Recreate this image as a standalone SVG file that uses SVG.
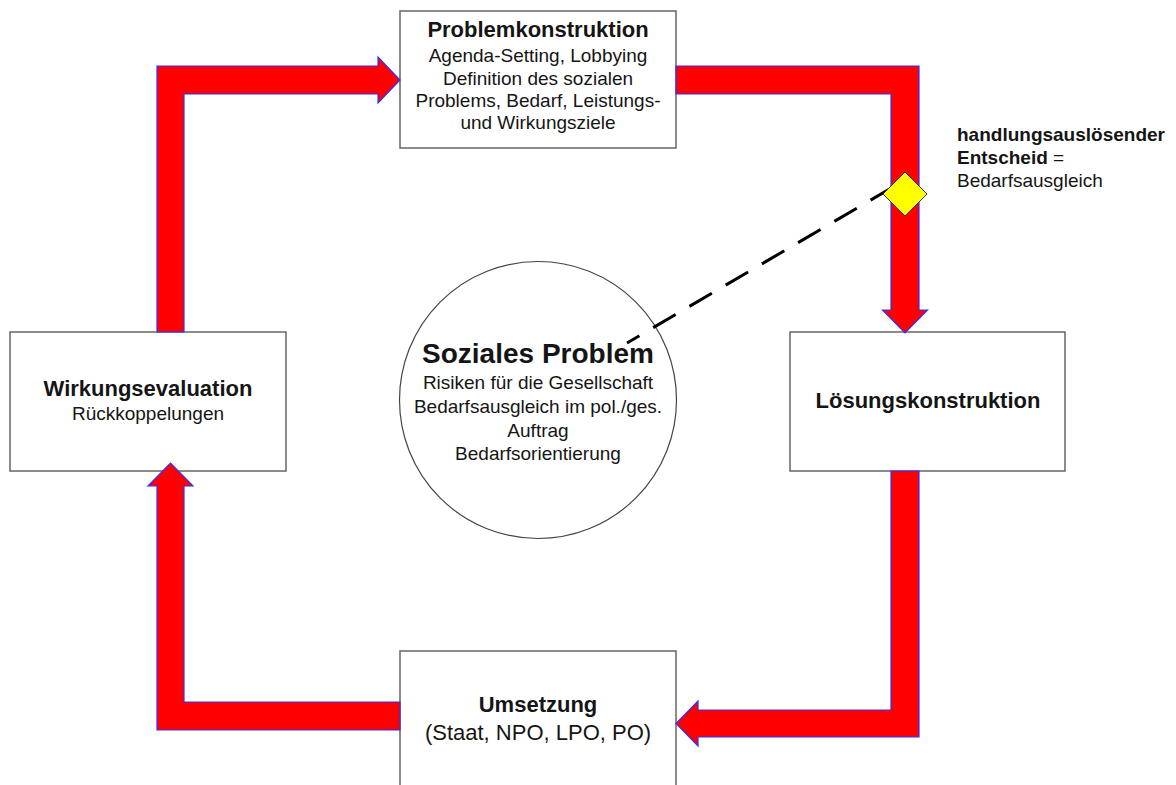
<svg xmlns="http://www.w3.org/2000/svg" width="1176" height="785" viewBox="0 0 1176 785">
<style>
.box{fill:#fff;stroke:#666;stroke-width:1.5}
.arrow{fill:#ff0000;stroke:#3030ff;stroke-width:1.2;stroke-linejoin:miter}
text{font-family:"Liberation Sans",Arial,sans-serif;fill:#151515}
.t{font-size:22px;font-weight:bold;text-anchor:middle}
.b{font-size:19px;text-anchor:middle}
.b22{font-size:22px;text-anchor:middle}
.side{font-size:19px}
</style>
<rect width="1176" height="785" fill="#fff"/>
<g id="node-problemkonstruktion">
<rect class="box" x="400" y="11" width="276" height="137"/>
<text class="t" x="538" y="37">Problemkonstruktion</text>
<text class="b" x="538" y="62">Agenda-Setting, Lobbying</text>
<text class="b" x="538" y="85">Definition des sozialen</text>
<text class="b" x="538" y="107">Problems, Bedarf, Leistungs-</text>
<text class="b" x="538" y="129">und Wirkungsziele</text>
</g>
<g id="node-loesungskonstruktion">
<rect class="box" x="790" y="332" width="275" height="139"/>
<text class="t" x="928" y="408">Lösungskonstruktion</text>
</g>
<g id="node-wirkungsevaluation">
<rect class="box" x="10" y="332" width="276" height="139"/>
<text class="t" x="148" y="396">Wirkungsevaluation</text>
<text class="b" x="148" y="420">Rückkoppelungen</text>
</g>
<g id="node-umsetzung">
<rect class="box" x="400" y="651" width="276" height="150"/>
<text class="t" x="538" y="712">Umsetzung</text>
<text class="b22" x="538" y="740">(Staat, NPO, LPO, PO)</text>
</g>
<g id="node-soziales-problem">
<circle cx="538" cy="400" r="138.5" fill="#fff" stroke="#444" stroke-width="1.2"/>
<text x="538" y="363" font-size="28" font-weight="bold" text-anchor="middle">Soziales Problem</text>
<text class="b" x="538" y="389">Risiken für die Gesellschaft</text>
<text class="b" x="538" y="413">Bedarfsausgleich im pol./ges.</text>
<text class="b" x="538" y="437">Auftrag</text>
<text class="b" x="538" y="460">Bedarfsorientierung</text>
</g>
<g id="connectors">
<polygon class="arrow" points="157,332 157,66 378,66 378,57 400,80 378,103 378,94 184,94 184,332"/>
<polygon class="arrow" points="676,66 919,66 919,310 927.5,310 905,333 882.5,310 891,310 891,94 676,94"/>
<polygon class="arrow" points="891,471 919,471 919,737 698,737 698,746 676,723.5 698,701 698,710 891,710"/>
<polygon class="arrow" points="400,702 400,730 157,730 157,486 148,486 170.5,463 193,486 184,486 184,702"/>
<line x1="893" y1="187" x2="627" y2="343" stroke="#000" stroke-width="3" stroke-dasharray="26 16"/>
</g>
<g id="node-entscheid">
<polygon points="905,172 927,194 905,216 883,194" fill="#ffff00" stroke="#333" stroke-width="1"/>
<text class="side" x="957" y="141" font-weight="bold">handlungsauslösender</text>
<text class="side" x="957" y="164"><tspan font-weight="bold">Entscheid</tspan> =</text>
<text class="side" x="957" y="187">Bedarfsausgleich</text>
</g>
</svg>
